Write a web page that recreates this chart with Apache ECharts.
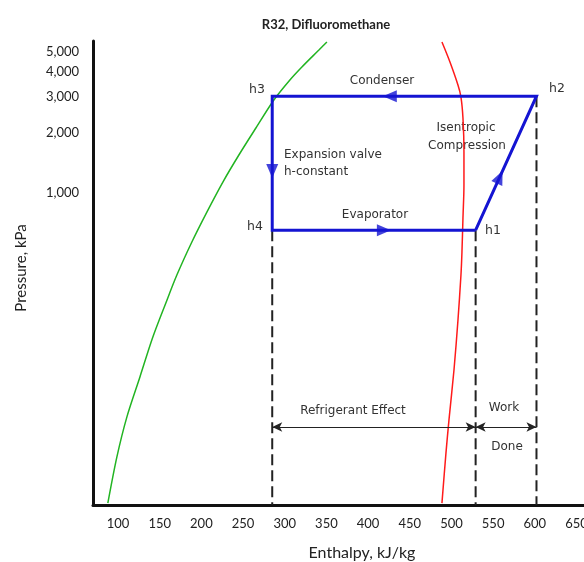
<!DOCTYPE html>
<html><head><meta charset="utf-8">
<script src="https://cdn.jsdelivr.net/npm/echarts@6/dist/echarts.min.js"></script>
<style>html,body{margin:0;padding:0;background:#fff}#c{width:584px;height:562px}</style>
</head><body><div id="c"></div>
<script>
// ---------------- DATA ----------------
const chartTitle = 'R32, Difluoromethane';
const xAxisName = 'Enthalpy, kJ/kg';
const yAxisName = 'Pressure, kPa';
const pressureTicks = [1000, 2000, 3000, 4000, 5000];

// saturated liquid line (green): enthalpy kJ/kg, pressure kPa
const liquidH = [87.8, 98.6, 110.6, 126.2, 141.8, 157.4, 170.6, 188.6, 206.6, 225.8, 245.0, 265.4, 287.0, 306.2, 320.6, 341.0, 350.6];
const liquidP = [28.9, 48.9, 77.3, 122, 193, 285, 392, 572, 805, 1135, 1546, 2105, 2899, 3643, 4227, 5133, 5627];
// saturated vapour line (red)
const vaporH = [488.6, 493.4, 497.0, 503.0, 507.8, 511.4, 512.6, 513.8, 515.0, 515.0, 513.8, 511.4, 507.8, 498.2, 488.6];
const vaporP = [28.9, 51.2, 74.7, 132, 234, 392, 510, 752, 1096, 1599, 2358, 2999, 3440, 4477, 5627];

// refrigeration cycle states h1..h4
const stateNames = ['h1', 'h2', 'h3', 'h4'];
const stateH = [529, 602, 285, 285];
const stateP = [655, 3030, 3030, 655];

// ---------------- LAYOUT / STYLE ----------------
const xMin = 70, xMax = 659;
const pMin = 28.3, pMax = 5690;
const arrowFrac = [0.396, 0.555, 0.559, 0.549]; // where the flow arrow sits along each process
const dimLineP = 69; // height of the dimension arrows (kPa)
const BLUE = '#1414d2', GREEN = '#22b422', RED = '#ff1a1a', INK = '#222';
const annoFont = 'DejaVu Sans';
const annotations = [
  {t: 'Condenser', x: 382, y: 81, a: 'center'},
  {t: 'Isentropic', x: 466, y: 128, a: 'center'},
  {t: 'Compression', x: 467, y: 146, a: 'center'},
  {t: 'Expansion valve', x: 284, y: 155, a: 'left'},
  {t: 'h-constant', x: 284, y: 172, a: 'left'},
  {t: 'Evaporator', x: 375, y: 215, a: 'center'},
  {t: 'Refrigerant Effect', x: 353, y: 411, a: 'center'},
  {t: 'Work', x: 504, y: 408, a: 'center'},
  {t: 'Done', x: 507, y: 447, a: 'center'}
];
const stateLabelPos = {h1: [493, 231], h2: [557, 89], h3: [257, 90], h4: [255, 227]};

const L = v => Math.log10(v);
const chart = echarts.init(document.getElementById('c'), null, {renderer: 'canvas'});

const liquid = liquidH.map((h, i) => [h, L(liquidP[i])]);
const vapor = vaporH.map((h, i) => [h, L(vaporP[i])]);
const cycleOrder = [0, 1, 2, 3, 0];
const cycle = cycleOrder.map(i => [stateH[i], L(stateP[i])]);

// arrows along each process
const arrowPts = [];
for (let k = 0; k < 4; k++) {
  const a = cycle[k], b = cycle[k + 1], f = arrowFrac[k];
  arrowPts.push({a, b, v: [a[0] + (b[0] - a[0]) * f, a[1] + (b[1] - a[1]) * f]});
}

// dashed verticals from the lowest state at each distinct enthalpy
const dashed = [];
const seen = {};
stateH.forEach((h, i) => {
  if (seen[h] === undefined || stateP[i] < stateP[seen[h]]) seen[h] = i;
});
Object.keys(seen).forEach(h => {
  const i = seen[h];
  dashed.push([[stateH[i], L(stateP[i])], [stateH[i], L(pMin)]]);
});

const fmt = v => Math.round(Math.pow(10, v)).toLocaleString('en-US');

const graphics = annotations.map(o => ({
  type: 'text', x: o.x, y: o.y, silent: true,
  style: {text: o.t, align: o.a, verticalAlign: 'middle', fill: '#333', font: '12px "' + annoFont + '"'}
})).concat(stateNames.map(n => ({
  type: 'text', x: stateLabelPos[n][0], y: stateLabelPos[n][1], silent: true,
  style: {text: n, align: 'center', verticalAlign: 'middle', fill: '#333', font: '12.5px "' + annoFont + '"'}
})));

const hIdx = {}; stateNames.forEach((n, i) => hIdx[n] = i);
const yDim = L(dimLineP);

const option = {
  animation: false,
  backgroundColor: '#fff',
  title: {
    text: chartTitle, left: 321, top: 13, textAlign: 'center',
    textStyle: {fontFamily: 'Lato', fontSize: 13, fontWeight: 'bold', color: '#222'}
  },
  grid: {left: 93, right: 0, top: 41, bottom: 57, containLabel: false, outerBoundsMode: 'none'},
  xAxis: {
    type: 'value', min: xMin, max: xMax, splitNumber: 12,
    name: xAxisName, nameLocation: 'middle', nameGap: 40,
    nameTextStyle: {fontFamily: 'Lato', fontSize: 16, color: '#222', padding: [0, 0, 0, 47]},
    axisLine: {show: true, onZero: false, lineStyle: {color: '#111', width: 3}},
    axisTick: {show: false},
    splitLine: {show: false},
    axisLabel: {showMinLabel: false, showMaxLabel: false, margin: 12,
      fontFamily: 'Lato', fontSize: 13, color: '#222'}
  },
  yAxis: {
    type: 'value', min: L(pMin), max: L(pMax),
    name: yAxisName, nameLocation: 'middle', nameGap: 64, nameRotate: 90,
    nameTextStyle: {fontFamily: 'Lato', fontSize: 15, color: '#222', padding: [0, 0, 0, 10]},
    axisLine: {show: true, onZero: false, lineStyle: {color: '#111', width: 3}},
    axisTick: {show: false},
    splitLine: {show: false},
    axisLabel: {customValues: pressureTicks.map(L), formatter: fmt, margin: 14,
      fontFamily: 'Lato', fontSize: 13, color: '#222'}
  },
  graphic: graphics,
  series: [
    {type: 'line', name: 'liquid', data: liquid, showSymbol: false, smooth: 0.3, silent: true,
      lineStyle: {color: GREEN, width: 1.5}, z: 2},
    {type: 'line', name: 'vapor', data: vapor, showSymbol: false, smooth: 0.3, silent: true,
      lineStyle: {color: RED, width: 1.5}, z: 2},
    ...dashed.map((d, i) => ({
      type: 'line', data: d, showSymbol: false, silent: true,
      lineStyle: {color: INK, width: 2, type: [11, 5]}, z: 3,
      markLine: i === 0 ? {
        silent: true, symbol: ['arrow', 'arrow'], symbolSize: [7, 10], label: {show: false},
        lineStyle: {color: INK, width: 1, type: 'solid'},
        data: [
          [{coord: [stateH[hIdx.h4], yDim]}, {coord: [stateH[hIdx.h1], yDim]}],
          [{coord: [stateH[hIdx.h1], yDim]}, {coord: [stateH[hIdx.h2], yDim]}]
        ]
      } : undefined
    })),
    {type: 'line', name: 'cycle', data: cycle, showSymbol: false, silent: true,
      lineStyle: {color: BLUE, width: 3, join: 'miter'}, z: 5},
    {type: 'scatter', name: 'flow', id: 'flow', silent: true, z: 6,
      symbol: 'triangle', symbolSize: [12, 14], itemStyle: {color: BLUE},
      data: arrowPts.map(p => ({value: p.v}))}
  ]
};
chart.setOption(option);

// orient flow arrows along each process in screen space
const flowData = arrowPts.map(p => {
  const pa = chart.convertToPixel({gridIndex: 0}, p.a);
  const pb = chart.convertToPixel({gridIndex: 0}, p.b);
  const ang = Math.atan2(-(pb[1] - pa[1]), pb[0] - pa[0]) * 180 / Math.PI;
  return {value: p.v, symbolRotate: ang - 90};
});
chart.setOption({series: [{id: 'flow', data: flowData}]});
</script></body></html>
